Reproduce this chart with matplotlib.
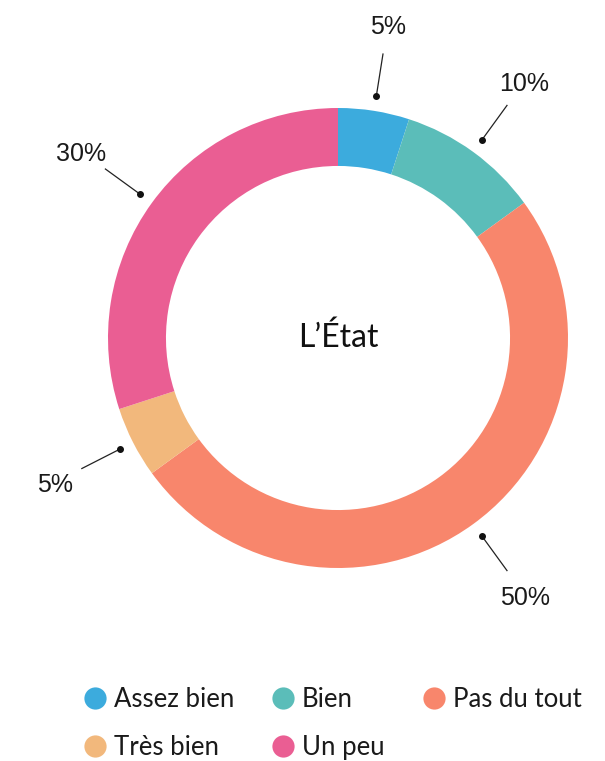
import numpy as np
import matplotlib
matplotlib.use("Agg")
import matplotlib.pyplot as plt
from matplotlib.lines import Line2D

# donnees du graphique
categories = ["Assez bien", "Bien", "Pas du tout", "Très bien", "Un peu"]
valeurs = [5, 10, 50, 5, 30]
etiquettes = ["5%", "10%", "50%", "5%", "30%"]
couleurs = ["#3cabdd", "#5bbdb9", "#f8866c", "#f2b87c", "#ea5e93"]
titre_centre = "L\u2019État"

W, H = 605, 761
cx, cy, r_px = 338, 338, 230  # centre et rayon en pixels

fig = plt.figure(figsize=(W / 100, H / 100), dpi=100)
ax = fig.add_axes([0, 0, 1, 1])

ax.pie(valeurs, colors=couleurs, startangle=90, counterclock=False,
       radius=1, center=(0, 0), frame=True,
       wedgeprops=dict(width=0.252, linewidth=0))
ax.set_xlim(-cx / r_px, (W - cx) / r_px)
ax.set_ylim(-(H - cy) / r_px, cy / r_px)
ax.set_aspect("auto")
ax.axis("off")

# etiquettes avec traits
fin = np.cumsum(valeurs)
debut = fin - np.array(valeurs)
milieu = (debut + fin) / 2 / sum(valeurs) * 360  # degres, sens horaire depuis le haut
for ang, lab in zip(milieu, etiquettes):
    a = np.deg2rad(90 - ang)
    ux, uy = np.cos(a), np.sin(a)
    ax.plot([1.065 * ux, 1.25 * ux], [1.065 * uy, 1.25 * uy], color="#222222", lw=0.9)
    ax.plot([1.065 * ux], [1.065 * uy], "o", color="#111111", ms=4)
    ax.text(1.38 * ux, 1.38 * uy - 0.012, lab, ha="center", va="center",
            fontsize=18, family="Liberation Sans", color="#1a1a1a")

ax.text(0, 0, titre_centre, ha="center", va="center", fontsize=23,
        family="Lato", color="#111111")

# legende
poignees = [Line2D([0], [0], marker="o", linestyle="none", markersize=16,
                   markerfacecolor=c, markeredgewidth=0) for c in couleurs]
ordre = [0, 3, 1, 4, 2]
leg = fig.legend([poignees[i] for i in ordre], [categories[i] for i in ordre],
                 ncol=3, loc="upper left", bbox_to_anchor=(84 / W, 1 - 687 / H),
                 frameon=False, prop=dict(family="Lato", size=18.5),
                 handlelength=0.85, handletextpad=0.3, columnspacing=1.5,
                 labelspacing=0.9, borderpad=0, borderaxespad=0)
for t in leg.get_texts():
    t.set_color("#1a1a1a")

fig.savefig("out.png", dpi=100)
